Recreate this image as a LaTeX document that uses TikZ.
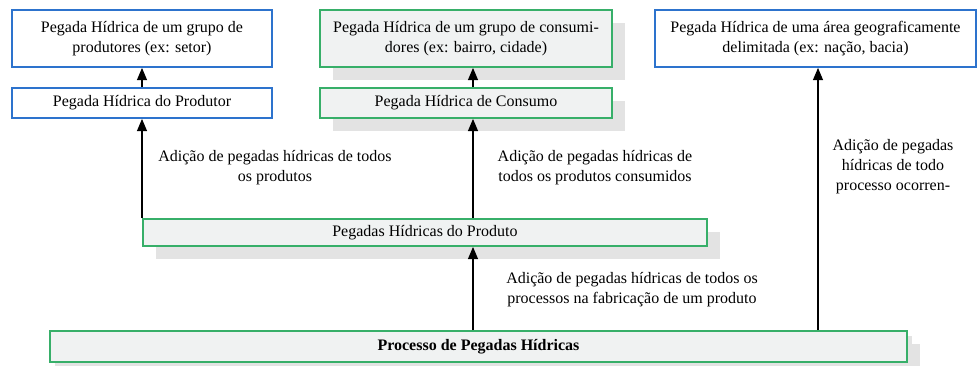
\documentclass[tikz,border=0pt]{standalone}
\usepackage{fontspec}
\setmainfont{Liberation Serif}
\usepackage{tikz}
\usetikzlibrary{arrows,shadows}

\definecolor{boxblue}{RGB}{45,115,205}
\definecolor{boxgreen}{RGB}{55,175,105}
\definecolor{boxgray}{RGB}{240,242,242}

\begin{document}
\begin{tikzpicture}[->,>=triangle 45,x=0.75pt,y=-0.75pt,line width=1.1pt,
                    every node/.style={font=\fontsize{12}{15}\selectfont}]
  \tikzstyle{bluebox}=[draw=boxblue,line width=1.4pt,fill=white,align=center,inner sep=0pt]
  \tikzstyle{greenbox}=[draw=boxgreen,line width=1.4pt,fill=boxgray,align=center,inner sep=0pt,
                        drop shadow={shadow xshift=9.5pt,shadow yshift=-9.5pt,fill=black!11,opacity=1}]
  \tikzstyle{note}=[align=center,inner sep=0pt]

  \useasboundingbox (0,0) rectangle (977,365);

  \node[bluebox,minimum width=195pt,minimum height=42.75pt] (grupoprod) at (142,38.5)
       {Pegada Hídrica de um grupo de\\produtores (ex: setor)};
  \node[bluebox,minimum width=195pt,minimum height=22.5pt] (produtor) at (142,103)
       {Pegada Hídrica do Produtor};
  \node[greenbox,minimum width=219pt,minimum height=42.75pt] (grupocons) at (466,38.5)
       {Pegada Hídrica de um grupo de consumi-\\dores (ex: bairro, cidade)};
  \node[greenbox,minimum width=219pt,minimum height=22.5pt] (consumo) at (466,103)
       {Pegada Hídrica de Consumo};
  \node[bluebox,minimum width=240.75pt,minimum height=42.75pt] (area) at (815.5,38.5)
       {Pegada Hídrica de uma área geograficamente\\delimitada (ex: nação, bacia)};
  \node[greenbox,minimum width=423pt,minimum height=20.25pt] (produto) at (425,232.5)
       {Pegadas Hídricas do Produto};
  \node[greenbox,minimum width=642.75pt,minimum height=23.25pt,
        drop shadow={shadow xshift=4pt,shadow yshift=-4pt,fill=black!11,opacity=1}] (processo) at (478.5,346.5)
       {\textbf{Processo de Pegadas Hídricas}};

  \coordinate (col2) at (473,0);
  \coordinate (col3) at (818,0);

  \node[note] (adprod) at (275,168) {Adição de pegadas hídricas de todos\\os produtos};
  \node[note] (adcons) at (595,168) {Adição de pegadas hídricas de\\todos os produtos consumidos};
  \node[note] (adarea) at (893,167) {Adição de pegadas\\hídricas de todo\\processo ocorren-};
  \node[note] (adproc) at (632,289.5) {Adição de pegadas hídricas de todos os\\processos na fabricação de um produto};

  \draw (produtor) -- (grupoprod);
  \draw (produto.north -| produtor.south) -- (produtor.south);
  \draw (consumo.north -| col2) -- (grupocons.south -| col2);
  \draw (produto.north -| col2) -- (consumo.south -| col2);
  \draw (processo.north -| col2) -- (produto.south -| col2);
  \draw (processo.north -| col3) -- (area.south -| col3);
\end{tikzpicture}
\end{document}
